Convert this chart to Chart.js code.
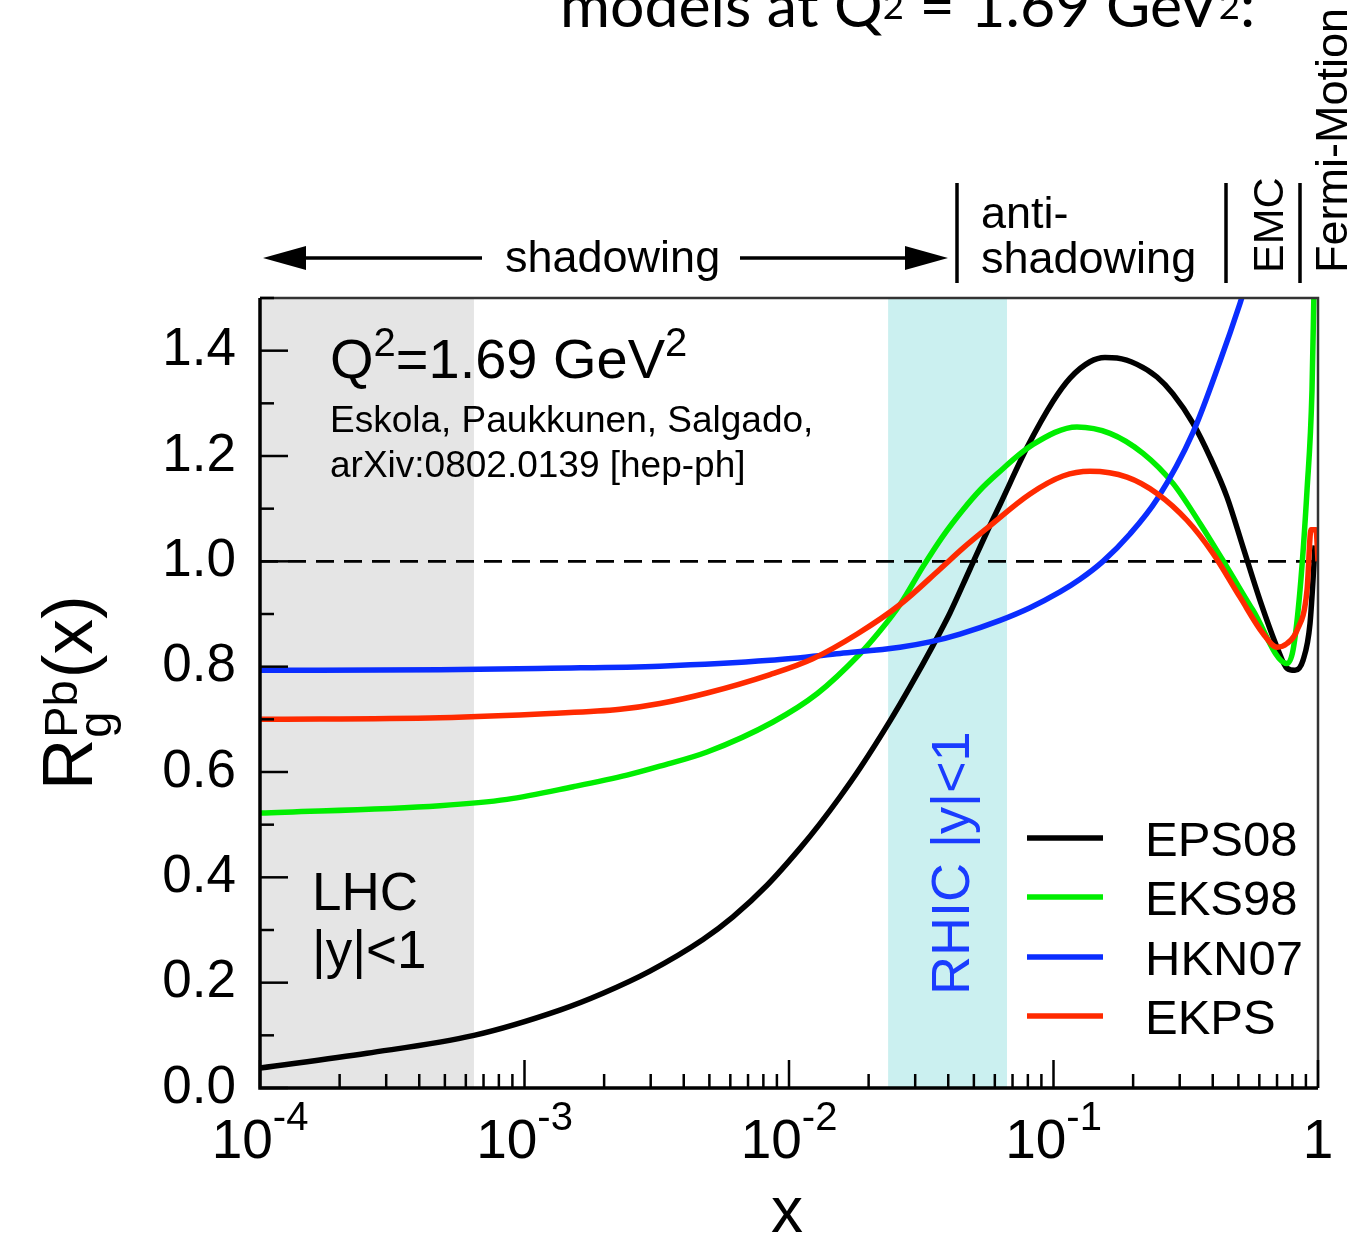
<!DOCTYPE html>
<html><head><meta charset="utf-8">
<script src="https://cdn.jsdelivr.net/npm/chart.js@4.4.0/dist/chart.umd.min.js"></script>
<style>html,body{margin:0;padding:0;background:#fff;overflow:hidden}#wrap{width:1357px;height:1237px}</style>
</head><body><div id="wrap"><canvas id="c" width="1357" height="1237"></canvas></div>
<script>
const FONT = '"Liberation Sans", Arial, Helvetica, sans-serif';

// ---- data ----
const seriesNames = ['EPS08', 'EKS98', 'HKN07', 'EKPS'];
const seriesColors = ['#000000', '#00ee00', '#0a2dff', '#ff2a00'];

const eps08X = [1e-4, 2.54e-4, 6.44e-4, 1.36e-3, 1.98e-3, 2.98e-3, 4.73e-3, 6.14e-3, 8.26e-3, 1.10e-2,
  1.31e-2, 1.56e-2, 1.86e-2, 2.41e-2, 2.87e-2, 3.50e-2, 4.06e-2, 4.83e-2, 5.75e-2, 6.28e-2,
  7.94e-2, 9.96e-2, 0.1155, 0.1374, 0.1565, 0.1738, 0.2069, 0.2462, 0.2830, 0.3369,
  0.3906, 0.4529, 0.5206, 0.6036, 0.700, 0.7635, 0.8185, 0.8776, 0.9329, 0.975];
const eps08Y = [0.038, 0.066, 0.100, 0.148, 0.180, 0.222, 0.282, 0.325, 0.385, 0.455,
  0.502, 0.553, 0.608, 0.697, 0.762, 0.840, 0.902, 0.985, 1.068, 1.108,
  1.216, 1.304, 1.348, 1.379, 1.387, 1.386, 1.374, 1.350, 1.318, 1.262,
  1.198, 1.122, 1.027, 0.926, 0.837, 0.797, 0.793, 0.812, 0.882, 1.030];

const eks98X = [1e-4, 4.79e-4, 8.59e-4, 1.53e-3, 2.44e-3, 3.25e-3, 4.90e-3, 8.70e-3, 1.28e-2, 1.86e-2,
  2.21e-2, 2.63e-2, 3.21e-2, 3.82e-2, 4.55e-2, 5.27e-2, 6.12e-2, 8.37e-2, 0.1227, 0.1635,
  0.2180, 0.2830, 0.3580, 0.4529, 0.5678, 0.7635, 0.8044, 0.855, 0.9088, 0.949, 0.966];
const eks98Y = [0.522, 0.536, 0.548, 0.572, 0.594, 0.611, 0.638, 0.695, 0.749, 0.825,
  0.868, 0.918, 0.990, 1.048, 1.098, 1.135, 1.166, 1.222, 1.255, 1.243,
  1.205, 1.148, 1.072, 0.989, 0.907, 0.806, 0.831, 0.945, 1.135, 1.324, 1.520];

const hkn07X = [1e-4, 4.79e-4, 1.25e-3, 3.25e-3, 8.48e-3, 1.56e-2, 2.63e-2, 3.41e-2, 4.43e-2, 6.28e-2,
  8.15e-2, 0.1058, 0.1259, 0.1538, 0.1946, 0.2462, 0.3369, 0.4261, 0.5072, 0.5532];
const hkn07Y = [0.793, 0.794, 0.797, 0.801, 0.812, 0.825, 0.837, 0.847, 0.862, 0.888,
  0.912, 0.942, 0.966, 1.000, 1.052, 1.118, 1.245, 1.380, 1.490, 1.550];

const ekpsX = [1e-4, 4.79e-4, 1.25e-3, 2.30e-3, 3.25e-3, 4.90e-3, 8.48e-3, 1.23e-2, 1.81e-2, 2.63e-2,
  3.72e-2, 4.55e-2, 5.61e-2, 8.15e-2, 0.1086, 0.1374, 0.1896, 0.2462, 0.3197, 0.4009,
  0.5072, 0.6196, 0.700, 0.7635, 0.833, 0.9088, 0.941, 0.983, 1.0];
const ekpsY = [0.700, 0.703, 0.711, 0.719, 0.730, 0.750, 0.785, 0.815, 0.862, 0.918,
  0.985, 1.025, 1.063, 1.128, 1.162, 1.171, 1.160, 1.129, 1.078, 1.015,
  0.932, 0.863, 0.837, 0.844, 0.869, 0.945, 1.060, 1.060, 1.000];

const yTickValues = [0, 0.2, 0.4, 0.6, 0.8, 1.0, 1.2, 1.4];
const xTickValues = [1e-4, 1e-3, 1e-2, 1e-1, 1];
const xTickBase = ['10', '10', '10', '10', '1'];
const xTickExp = ['-4', '-3', '-2', '-1', ''];
const lhcBand = [1e-4, 6.44e-4];
const rhicBand = [0.0237, 0.0667];
const refLine = 1.0;

const pts = (xs, ys) => xs.map((x, i) => ({x: x, y: ys[i]}));
const seriesX = [eps08X, eks98X, hkn07X, ekpsX];
const seriesY = [eps08Y, eks98Y, hkn07Y, ekpsY];
const drawOrder = [3, 2, 1, 0];
const LW = 5.5;

function rotText(ctx, txt, x, y, font, color) {
  ctx.save();
  ctx.translate(x, y);
  ctx.rotate(-Math.PI / 2);
  ctx.font = font; ctx.fillStyle = color; ctx.textAlign = 'left'; ctx.textBaseline = 'alphabetic';
  ctx.fillText(txt, 0, 0);
  ctx.restore();
}

const deco = {
  id: 'deco',
  beforeDatasetsDraw(chart) {
    const {ctx, chartArea: a, scales: {x, y}} = chart;
    ctx.save();
    let x0 = x.getPixelForValue(lhcBand[0]), x1 = x.getPixelForValue(lhcBand[1]);
    ctx.fillStyle = '#e5e5e5';
    ctx.fillRect(x0, a.top, x1 - x0, a.bottom - a.top);
    x0 = x.getPixelForValue(rhicBand[0]); x1 = x.getPixelForValue(rhicBand[1]);
    ctx.fillStyle = '#cbf0f0';
    ctx.fillRect(x0, a.top, x1 - x0, a.bottom - a.top);
    rotText(ctx, 'RHIC |y|<1', (x0 + x1) / 2 + 21, 995, '54px ' + FONT, '#1a3cff');
    const yr = y.getPixelForValue(refLine);
    ctx.setLineDash([18, 10]);
    ctx.lineWidth = 2.8; ctx.strokeStyle = '#000';
    ctx.beginPath(); ctx.moveTo(a.left, yr); ctx.lineTo(a.right, yr); ctx.stroke();
    ctx.setLineDash([]);
    ctx.restore();
  },
  afterDatasetsDraw(chart) {
    const {ctx, chartArea: a, scales: {x, y}} = chart;
    ctx.save();
    // frame
    ctx.strokeStyle = '#333'; ctx.lineWidth = 2.5;
    ctx.beginPath(); ctx.moveTo(a.left, a.top); ctx.lineTo(a.right, a.top); ctx.lineTo(a.right, a.bottom); ctx.stroke();
    ctx.strokeStyle = '#000'; ctx.lineWidth = 3.5;
    ctx.beginPath(); ctx.moveTo(a.left, a.top); ctx.lineTo(a.left, a.bottom); ctx.lineTo(a.right, a.bottom); ctx.stroke();
    // y ticks (inward)
    ctx.lineWidth = 2.5;
    for (let k = 0; k <= 15; k++) {
      const py = y.getPixelForValue(k / 10);
      const len = (k % 2 === 0) ? 28 : 14;
      ctx.beginPath(); ctx.moveTo(a.left, py); ctx.lineTo(a.left + len, py); ctx.stroke();
    }
    // x ticks (inward)
    for (let n = -4; n <= 0; n++) {
      const base = Math.pow(10, n);
      const pxm = x.getPixelForValue(base);
      ctx.beginPath(); ctx.moveTo(pxm, a.bottom); ctx.lineTo(pxm, a.bottom - 28); ctx.stroke();
      if (n < 0) {
        for (let m = 2; m <= 9; m++) {
          const p = x.getPixelForValue(m * base);
          ctx.beginPath(); ctx.moveTo(p, a.bottom); ctx.lineTo(p, a.bottom - 14); ctx.stroke();
        }
      }
    }
    // x tick labels with superscripts
    ctx.fillStyle = '#000'; ctx.textBaseline = 'alphabetic'; ctx.textAlign = 'left';
    xTickValues.forEach((v, i) => {
      const p = x.getPixelForValue(v);
      ctx.font = '55px ' + FONT;
      const wb = ctx.measureText(xTickBase[i]).width;
      ctx.font = '40px ' + FONT;
      const we = xTickExp[i] ? ctx.measureText(xTickExp[i]).width : 0;
      const start = p - (wb + we) / 2;
      ctx.font = '55px ' + FONT;
      ctx.fillText(xTickBase[i], start, 1158);
      if (xTickExp[i]) { ctx.font = '40px ' + FONT; ctx.fillText(xTickExp[i], start + wb, 1130); }
    });
    // x title
    ctx.font = '64px ' + FONT; ctx.textAlign = 'center';
    ctx.fillText('x', 787, 1232);
    // y title  R_g^Pb(x)
    ctx.save();
    ctx.translate(92, 790); ctx.rotate(-Math.PI / 2);
    ctx.textAlign = 'left';
    ctx.font = '71px ' + FONT; ctx.fillText('R', 0, 0);
    const wR = ctx.measureText('R').width;
    ctx.font = '47px ' + FONT;
    ctx.fillText('g', wR + 1, 19);
    ctx.fillText('Pb', wR + 1, -15);
    const wS = Math.max(ctx.measureText('Pb').width, ctx.measureText('g').width);
    ctx.font = '71px ' + FONT; ctx.fillText('(x)', wR + wS + 3, 0);
    ctx.restore();
    // annotations inside plot
    ctx.textAlign = 'left';
    let cx = 330;
    ctx.font = '56px ' + FONT; ctx.fillText('Q', cx, 378); cx += ctx.measureText('Q').width;
    ctx.font = '40px ' + FONT; ctx.fillText('2', cx, 356); cx += ctx.measureText('2').width;
    ctx.font = '56px ' + FONT; ctx.fillText('=1.69 GeV', cx, 378); cx += ctx.measureText('=1.69 GeV').width;
    ctx.font = '40px ' + FONT; ctx.fillText('2', cx, 356);
    ctx.font = '37px ' + FONT;
    ctx.fillText('Eskola, Paukkunen, Salgado,', 330, 432);
    ctx.fillText('arXiv:0802.0139 [hep-ph]', 330, 477);
    ctx.font = '53px ' + FONT;
    ctx.fillText('LHC', 312, 910);
    ctx.fillText('|y|<1', 312, 968);
    // legend
    const legY = [838, 897, 957, 1016];
    seriesNames.forEach((nm, i) => {
      ctx.strokeStyle = seriesColors[i]; ctx.lineWidth = LW;
      ctx.beginPath(); ctx.moveTo(1027, legY[i]); ctx.lineTo(1103, legY[i]); ctx.stroke();
      ctx.fillStyle = '#000'; ctx.font = '49px ' + FONT;
      ctx.fillText(nm, 1145, legY[i] + 18);
    });
    // region annotations above plot
    ctx.strokeStyle = '#000'; ctx.fillStyle = '#000'; ctx.lineWidth = 3.5;
    ctx.beginPath(); ctx.moveTo(300, 258); ctx.lineTo(482, 258); ctx.stroke();
    ctx.beginPath(); ctx.moveTo(263, 258); ctx.lineTo(306, 246); ctx.lineTo(306, 270); ctx.closePath(); ctx.fill();
    ctx.beginPath(); ctx.moveTo(740, 258); ctx.lineTo(910, 258); ctx.stroke();
    ctx.beginPath(); ctx.moveTo(948, 258); ctx.lineTo(905, 246); ctx.lineTo(905, 270); ctx.closePath(); ctx.fill();
    ctx.font = '45px ' + FONT;
    ctx.fillText('shadowing', 505, 272);
    ctx.fillText('anti-', 981, 228);
    ctx.fillText('shadowing', 981, 273);
    [957, 1226, 1300].forEach(bx => {
      ctx.beginPath(); ctx.moveTo(bx, 183); ctx.lineTo(bx, 283); ctx.stroke();
    });
    rotText(ctx, 'EMC', 1283, 273, '43px ' + FONT, '#000');
    rotText(ctx, 'Fermi-Motion', 1347, 273, '45px ' + FONT, '#000');
    // cut-off title: models at Q^2 = 1.69 GeV^2:
    const parts = [['models at Q', 0], ['2', 1], [' = 1.69 GeV', 0], ['2', 1], [':', 0]];
    const TF = 'Lato, ' + FONT;
    const measure = fs => parts.reduce((s, p) => { ctx.font = (p[1] ? fs * 0.6 : fs) + 'px ' + TF; return s + ctx.measureText(p[0]).width; }, 0);
    const fs = 56 * 695 / measure(56);
    let tx = 560;
    parts.forEach(p => {
      ctx.font = (p[1] ? fs * 0.6 : fs).toFixed(1) + 'px ' + TF;
      ctx.fillText(p[0], tx, p[1] ? 19 : 27);
      tx += ctx.measureText(p[0]).width;
    });
    ctx.restore();
  }
};

new Chart(document.getElementById('c'), {
  type: 'line',
  data: {
    datasets: seriesNames.map((nm, i) => ({
      label: nm,
      data: pts(seriesX[i], seriesY[i]),
      borderColor: seriesColors[i],
      backgroundColor: seriesColors[i],
      borderWidth: LW,
      pointRadius: 0,
      fill: false,
      cubicInterpolationMode: 'monotone',
      order: drawOrder[i]
    }))
  },
  options: {
    responsive: false,
    animation: false,
    layout: {padding: {left: 0, right: 39, top: 298, bottom: 0}},
    plugins: {legend: {display: false}, tooltip: {enabled: false}, title: {display: false}},
    scales: {
      x: {
        type: 'logarithmic', min: 1e-4, max: 1,
        afterBuildTicks: s => { s.ticks = xTickValues.map(v => ({value: v})); },
        afterFit: s => { s.height = 149; },
        ticks: {display: false},
        grid: {display: false, drawTicks: false},
        border: {display: false}
      },
      y: {
        type: 'linear', min: 0, max: 1.5,
        afterBuildTicks: s => { s.ticks = yTickValues.map(v => ({value: v})); },
        afterFit: s => { s.width = 260; },
        ticks: {color: '#000', font: {family: FONT, size: 53}, padding: 24, callback: v => Number(v).toFixed(1)},
        grid: {display: false, drawTicks: false},
        border: {display: false}
      }
    }
  },
  plugins: [deco]
});
</script>
</body></html>
